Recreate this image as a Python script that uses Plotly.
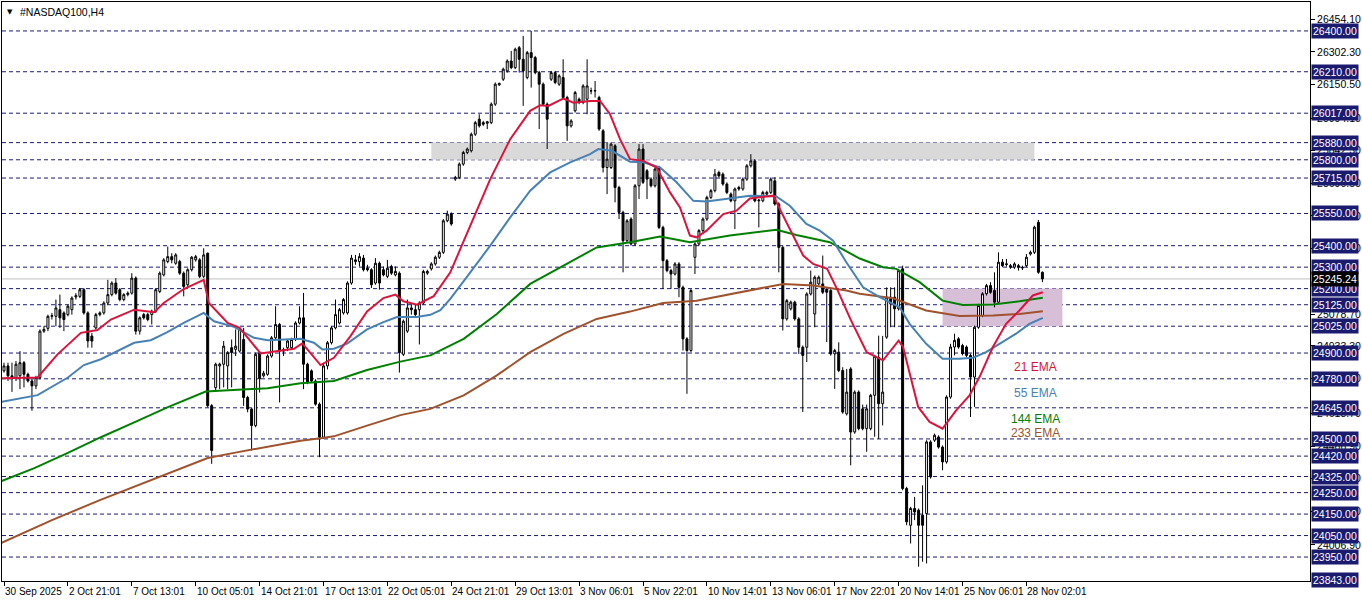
import plotly.graph_objects as go

# ---------------- data ----------------
bar_index = list(range(261))

open_ = [24817,24840,24794,24786,24794,24855,24801,24770,24747,24786,
         25002,25015,25071,25071,25102,25087,25079,25102,25161,25164,
         25195,25087,24979,25017,25079,25087,25133,25172,25226,25195,
         25149,25172,25179,25249,25002,25079,25079,25079,25095,25187,
         25264,25326,25349,25318,25326,25272,25218,25288,25334,25334,
         25257,25365,24655,24739,24840,24848,24840,24925,24917,24909,
         24963,24693,24639,24562,24902,24794,24801,24886,24971,25033,
         24909,24925,24925,24963,25040,25064,24848,24817,24770,24662,
         24508,24840,24948,25017,25040,25087,25087,25226,25326,25326,
         25342,25295,25288,25226,25318,25288,25257,25303,25264,25272,
         24894,25002,25110,25102,25102,25133,25272,25292,25315,25346,
         25369,25516,25547,25710,25718,25780,25834,25842,25919,25989,
         25973,25970,25973,26059,26149,26175,26214,26260,26229,26322,
         26268,26183,26299,26276,26206,26152,26059,26175,26206,26152,
         26183,26090,25958,26028,26082,26067,26082,26121,26121,26090,
         25935,25764,25764,25865,25671,25555,25423,25524,25408,25679,
         25850,25749,25710,25679,25764,25485,25330,25284,25268,25315,
         25206,24966,24912,25346,25408,25470,25524,25625,25656,25741,
         25733,25687,25640,25609,25671,25664,25710,25772,25795,25609,
         25609,25640,25648,25702,25594,25392,25059,25106,25137,25059,
         24927,24927,25175,25082,25222,25222,25198,25191,24896,24904,
         24819,24617,24826,24532,24718,24640,24548,24548,24703,24880,
         24664,24974,25160,25160,25106,25292,24269,24098,24176,24168,
         24145,24153,24486,24494,24509,24462,24393,24695,24928,24966,
         24935,24928,24889,24788,25020,25075,25176,25214,25191,25137,
         25323,25312,25307,25300,25307,25300,25307,25361,25369,25509,
         25276]

high = [24855,24855,24855,24863,24909,24863,24809,24778,24794,25010,
        25025,25079,25087,25149,25172,25094,25125,25164,25179,25203,
        25203,25094,24994,25087,25094,25141,25241,25234,25249,25203,
        25179,25187,25272,25257,25071,25087,25087,25102,25203,25280,
        25342,25396,25365,25365,25334,25280,25295,25352,25357,25342,
        25388,25368,24662,24855,24855,24956,24909,24963,25010,25017,
        25017,24701,24647,24902,24909,24817,24894,24979,25118,25040,
        24925,24963,24971,25048,25118,25180,24855,24824,24778,24670,
        24850,24956,25025,25149,25110,25156,25234,25357,25357,25365,
        25357,25311,25295,25342,25326,25303,25334,25311,25303,25280,
        25056,25149,25125,25125,25141,25288,25288,25323,25354,25377,
        25524,25563,25555,25725,25788,25842,25857,25927,25981,26012,
        25981,25981,26067,26160,26160,26229,26268,26307,26322,26330,
        26377,26307,26400,26284,26214,26160,26067,26214,26214,26198,
        26268,26098,25989,26121,26090,26152,26268,26136,26167,26098,
        25943,25880,25880,25873,25679,25563,25524,25532,25687,25873,
        25873,25757,25718,25764,25772,25493,25338,25292,25323,25323,
        25214,24974,25198,25416,25477,25532,25633,25664,25757,25749,
        25741,25695,25648,25671,25679,25718,25780,25826,25803,25617,
        25656,25656,25718,25718,25602,25400,25152,25144,25144,25067,
        24935,25183,25284,25261,25261,25354,25206,25198,24920,24950,
        24834,24826,24834,24726,24726,24660,24660,24710,24890,24981,
        24980,25206,25206,25206,25292,25307,24277,24184,24230,24176,
        24284,24494,24494,24525,24517,24470,24703,24943,24990,24974,
        24943,24935,24897,25028,25129,25183,25222,25230,25276,25369,
        25338,25338,25315,25323,25315,25307,25361,25377,25493,25520,
        25280]

low = [24809,24770,24719,24770,24732,24740,24763,24631,24732,24778,
       24994,25002,25056,25025,25017,25002,25071,25079,25149,25156,
       25079,24925,24925,25010,25071,25079,25125,25164,25172,25141,
       25141,25164,25172,24986,24986,25056,25048,25033,25087,25179,
       25257,25318,25318,25311,25264,25164,25207,25280,25326,25249,
       25249,24647,24384,24724,24732,24740,24732,24740,24886,24902,
       24654,24624,24446,24554,24716,24786,24794,24878,24963,24670,
       24886,24909,24917,24956,25033,24732,24755,24763,24655,24415,
       24500,24824,24940,25010,25033,25079,25079,25218,25311,25303,
       25280,25280,25203,25218,25195,25257,25249,25264,25257,24809,
       24886,24994,25079,25071,24940,25125,25264,25284,25307,25338,
       25361,25509,25493,25702,25710,25772,25826,25834,25911,25950,
       25958,25943,25966,26051,26144,26167,26206,26222,26222,26206,
       26051,26175,26136,26198,25943,26051,25850,26167,26152,26144,
       26082,25888,25950,26020,26059,26059,26012,26105,26090,25935,
       25741,25640,25757,25602,25524,25276,25416,25400,25400,25617,
       25687,25617,25671,25671,25477,25199,25276,25199,25261,25160,
       24912,24710,24904,25268,25400,25462,25516,25617,25648,25718,
       25679,25640,25602,25477,25656,25656,25702,25764,25602,25485,
       25602,25633,25640,25586,25276,25005,25051,25098,25051,24896,
       24625,24858,25168,25020,25214,25175,24951,24888,24733,24811,
       24617,24609,24377,24524,24540,24540,24440,24540,24510,24500,
       24563,24966,25020,25020,25098,24261,24098,24013,24122,23905,
       23928,23920,24315,24486,24455,24354,24385,24687,24889,24920,
       24889,24881,24602,24649,25013,25067,25168,25176,25113,25129,
       25300,25303,25292,25292,25284,25287,25300,25354,25361,25269,
       25230]

close = [24840,24794,24786,24848,24855,24801,24770,24747,24786,25002,
         25010,25071,25074,25110,25064,25056,25118,25156,25167,25195,
         25087,24956,24956,25079,25087,25133,25172,25226,25179,25149,
         25172,25179,25249,25002,25064,25064,25056,25095,25195,25272,
         25334,25349,25334,25357,25272,25210,25288,25346,25349,25257,
         25357,24655,24446,24848,24848,24932,24902,24902,24932,25010,
         24693,24639,24562,24894,24780,24806,24886,24971,25033,24909,
         24917,24956,24963,25040,25064,24848,24763,24770,24662,24508,
         24840,24948,25017,25079,25102,25149,25226,25342,25334,25349,
         25288,25288,25218,25318,25226,25264,25295,25272,25280,24902,
         25048,25110,25102,25079,25133,25280,25280,25315,25346,25369,
         25516,25547,25501,25718,25780,25834,25850,25919,25973,25958,
         25966,25977,26059,26152,26155,26222,26260,26229,26315,26268,
         26214,26299,26276,26206,26152,26059,25989,26206,26160,26191,
         26090,25958,25981,26113,26067,26144,26144,26121,26122,25943,
         25764,25803,25873,25671,25555,25423,25516,25408,25679,25850,
         25695,25710,25679,25757,25485,25330,25284,25268,25315,25206,
         24966,24912,25191,25408,25470,25524,25625,25656,25733,25725,
         25687,25648,25609,25664,25664,25710,25772,25795,25609,25612,
         25648,25648,25710,25594,25392,25059,25144,25137,25059,24927,
         24889,25175,25230,25253,25253,25183,25183,24896,24912,24819,
         24625,24718,24532,24718,24548,24548,24640,24703,24885,24664,
         24718,25160,25129,25106,25284,24269,24114,24176,24160,24098,
         24098,24486,24323,24517,24462,24393,24695,24928,24959,24928,
         24897,24889,24788,25020,25121,25176,25214,25183,25137,25323,
         25307,25315,25300,25315,25300,25297,25346,25369,25486,25276,
         25245.24]

# moving averages (bar index, price)
ema21_x = [-0.75,8.4,13.4,19.25,23.4,26.75,32.6,37.6,40,45,50,51.3,56,59,64.25,68.4,72.6,74.7,
           79.25,82.6,86.75,90.9,95,98,100,103.4,107.6,111.75,116.75,121.75,126.75,131.75,134.25,
           136.3,140,142.6,146.75,149.25,151.75,154.25,156.75,160.1,163.4,166.75,169.25,171.75,
           173.4,175.9,180.1,183.4,186.75,192.6,195.9,200.1,202.6,206.1,208.6,211.9,216,220.1,
           224,225.1,228.9,231.75,235,238.4,241.75,244.25,247.6,250.9,254.25,257.6,260.1]
ema21_y = [24783,24786,24894,24994,25007,25056,25102,25090,25133,25198,25241,25133,25040,25017,
           24898,24909,24920,24945,24844,24878,24979,25094,25156,25172,25141,25125,25165,25276,
           25493,25710,25896,26028,26054,26051,26085,26066,26074,26074,26012,25896,25803,25795,
           25764,25648,25578,25447,25439,25470,25547,25563,25620,25633,25509,25354,25315,25292,
           25198,25059,24904,24866,24958,24928,24649,24579,24548,24633,24703,24788,24928,25036,
           25098,25168,25183]

ema55_x = [-0.75,8.4,16,20,24.25,28.4,32.6,36.75,40.9,45,50,52.6,57.6,62.6,66,74.25,77.6,79.7,
           82.6,86,90.9,95,98.4,103.4,106.75,109.25,111.75,116.75,121.75,126.75,131.75,136.75,
           141.75,146.75,148.8,152.2,156.75,160.1,164.25,168.4,172.6,175.9,180.1,186.75,193.4,
           196.75,200.9,204.25,207.6,210.9,215.1,219.25,224.25,226.75,230.9,235,239.25,242.6,
           245.9,249.25,253.4,256.75,260.1]
ema55_y = [24672,24704,24786,24844,24871,24909,24948,24960,24997,25040,25087,25048,25022,24971,
           24960,24966,24948,24917,24920,24945,25010,25044,25068,25068,25078,25100,25152,25276,
           25400,25532,25656,25741,25788,25826,25850,25842,25791,25788,25764,25695,25609,25606,
           25617,25633,25629,25586,25501,25470,25423,25323,25206,25160,25113,25036,24943,24873,
           24873,24878,24904,24943,24990,25036,25064]

ema144_x = [-0.75,7.6,16,24.25,32.6,40.9,50.5,57.6,66,74.25,82.6,90.9,99.25,106.75,115.1,123.4,
            131.75,140.1,148.4,156.75,164.25,171.75,181.75,193.4,198.4,206.75,214.25,220.1,223.4,
            229.25,235,240.1,247.6,254.25,260.1]
ema144_y = [24303,24364,24435,24508,24577,24647,24721,24729,24736,24759,24770,24821,24860,24889,
            24966,25082,25222,25307,25392,25416,25443,25416,25447,25474,25450,25416,25340,25300,
            25292,25230,25144,25124,25126,25141,25157]

ema233_x = [-0.75,12,24,37,44.7,51,57.6,66,74.25,79.25,82.6,90.9,99.25,106.75,115.1,123.4,131.75,
            140.1,148.4,156.75,165,173.4,181.75,190.1,195.1,202.6,210.9,214.25,222.6,230.9,239.25,
            247.6,254.25,260.1]
ema233_y = [24015,24122,24215,24308,24364,24411,24435,24462,24492,24503,24512,24562,24611,24640,
            24703,24796,24904,24989,25059,25093,25133,25144,25175,25206,25222,25214,25191,25176,
            25155,25098,25072,25075,25082,25095]

level_prices = [26400, 26210, 26017, 25880, 25800, 25715, 25550, 25400, 25300, 25200, 25125,
                25025, 24900, 24780, 24645, 24500, 24420, 24325, 24250, 24150, 24050, 23950]
scale_ticks = [26454.10, 26302.30, 26150.50, 25994.10, 25842.30, 25690.50, 25538.70, 25386.90,
               25078.70, 24933.30, 24781.50, 24618.70, 24466.90, 24315.10, 24163.30, 24006.90]
bottom_price = 23843.00
last_price = 25245.24

date_tick_index = [0, 16, 32, 48, 64, 80, 96, 112, 128, 144, 160, 176, 192, 208, 224, 240, 256]
date_tick_text = ["30 Sep 2025", "2 Oct 21:01", "7 Oct 13:01", "10 Oct 05:01", "14 Oct 21:01",
                  "17 Oct 13:01", "22 Oct 05:01", "24 Oct 21:01", "29 Oct 13:01", "3 Nov 06:01",
                  "5 Nov 22:01", "10 Nov 14:01", "13 Nov 06:01", "17 Nov 22:01", "20 Nov 14:01",
                  "25 Nov 06:01", "28 Nov 02:01"]

resistance_zone = [25800, 25880]
resistance_span = [107, 258]
support_zone = [25025, 25200]
support_span = [235, 265]

ema_labels = ["21 EMA", "55 EMA", "144 EMA", "233 EMA"]
ema_label_prices = [24833, 24712, 24592, 24527]

# ---------------- figure ----------------
FONT = "Liberation Sans, Arial, sans-serif"
NAVY = "#1a1a6e"

fig = go.Figure()

fig.add_trace(go.Candlestick(
    x=bar_index, open=open_, high=high, low=low, close=close,
    increasing=dict(line=dict(color="black", width=1), fillcolor="white"),
    decreasing=dict(line=dict(color="black", width=1), fillcolor="black"),
    whiskerwidth=0, hoverinfo="skip", showlegend=False))

for xs, ys, col in [(ema233_x, ema233_y, "#A0522D"), (ema144_x, ema144_y, "#008000"),
                    (ema55_x, ema55_y, "#4682B4"), (ema21_x, ema21_y, "#DC143C")]:
    fig.add_trace(go.Scatter(x=xs, y=ys, mode="lines", line=dict(color=col, width=2),
                             hoverinfo="skip", showlegend=False))

shapes = []
shapes.append(dict(type="rect", xref="x", yref="y", x0=resistance_span[0], x1=resistance_span[1],
                   y0=resistance_zone[0], y1=resistance_zone[1], fillcolor="#d9d9d9",
                   line=dict(width=0), layer="below"))
shapes.append(dict(type="rect", xref="x", yref="y", x0=support_span[0], x1=support_span[1],
                   y0=support_zone[0], y1=support_zone[1], fillcolor="#d8bfd8",
                   line=dict(width=0), layer="below"))
for p in level_prices:
    shapes.append(dict(type="line", xref="paper", yref="y", x0=0, x1=1, y0=p, y1=p,
                       line=dict(color="#1a1a80", width=1, dash="4px,3px"), layer="below"))
shapes.append(dict(type="line", xref="paper", yref="y", x0=0, x1=1, y0=last_price, y1=last_price,
                   line=dict(color="#c0c0c0", width=1), layer="below"))

annotations = []
for p in level_prices + [bottom_price]:
    annotations.append(dict(xref="paper", yref="y", x=1, y=p, xanchor="left", yanchor="middle",
                            xshift=1, text=f"{p:.2f}", showarrow=False, bgcolor=NAVY,
                            borderpad=1, font=dict(family=FONT, size=10.5, color="white")))
annotations.append(dict(xref="paper", yref="y", x=1, y=last_price, xanchor="left", yanchor="middle",
                        xshift=1, text=f"{last_price:.2f}", showarrow=False, bgcolor="black",
                        borderpad=1, font=dict(family=FONT, size=10.5, color="white")))
for i, t in zip(date_tick_index, date_tick_text):
    annotations.append(dict(xref="x", yref="paper", x=i, y=0, xanchor="left", yanchor="top",
                            xshift=-1, yshift=-3, text=t, showarrow=False,
                            font=dict(family=FONT, size=10, color="black")))
for t, p, c in zip(ema_labels, ema_label_prices, ["#DC143C", "#4682B4", "#008000", "#A0522D"]):
    annotations.append(dict(xref="x", yref="y", x=258.2, y=p, xanchor="center", yanchor="middle",
                            text=t, showarrow=False, font=dict(family=FONT, size=12, color=c)))
annotations.append(dict(xref="paper", yref="paper", x=0, y=1, xanchor="left", yanchor="top",
                        xshift=3, yshift=-4, text="▼", showarrow=False,
                        font=dict(family="DejaVu Sans", size=7, color="black")))
annotations.append(dict(xref="paper", yref="paper", x=0, y=1, xanchor="left", yanchor="top",
                        xshift=16, yshift=-2, text="#NASDAQ100,H4", showarrow=False,
                        font=dict(family=FONT, size=10.5, color="black")))

fig.update_layout(
    width=1362, height=603,
    margin=dict(l=1, r=51, t=1, b=22),
    paper_bgcolor="white", plot_bgcolor="white",
    shapes=shapes, annotations=annotations,
    boxgap=0.3,
    xaxis=dict(range=[-0.5, 327], showgrid=False, zeroline=False, showline=True, mirror=True,
               linecolor="black", linewidth=1, ticks="outside", ticklen=4, tickcolor="black",
               tickvals=date_tick_index, showticklabels=False,
               rangeslider=dict(visible=False), fixedrange=True),
    yaxis=dict(range=[23838.4, 26534.8], side="right", showgrid=False, zeroline=False,
               showline=True, mirror=True, linecolor="black", linewidth=1, ticks="outside",
               ticklen=4, tickcolor="black", tickvals=scale_ticks,
               ticktext=[f"{v:.2f}" for v in scale_ticks],
               tickfont=dict(family=FONT, size=10.5, color="black"), fixedrange=True),
)

fig.write_html("out.html", config={"displayModeBar": False},
               post_script="document.body.style.margin='0px';document.body.style.overflow='hidden';")
